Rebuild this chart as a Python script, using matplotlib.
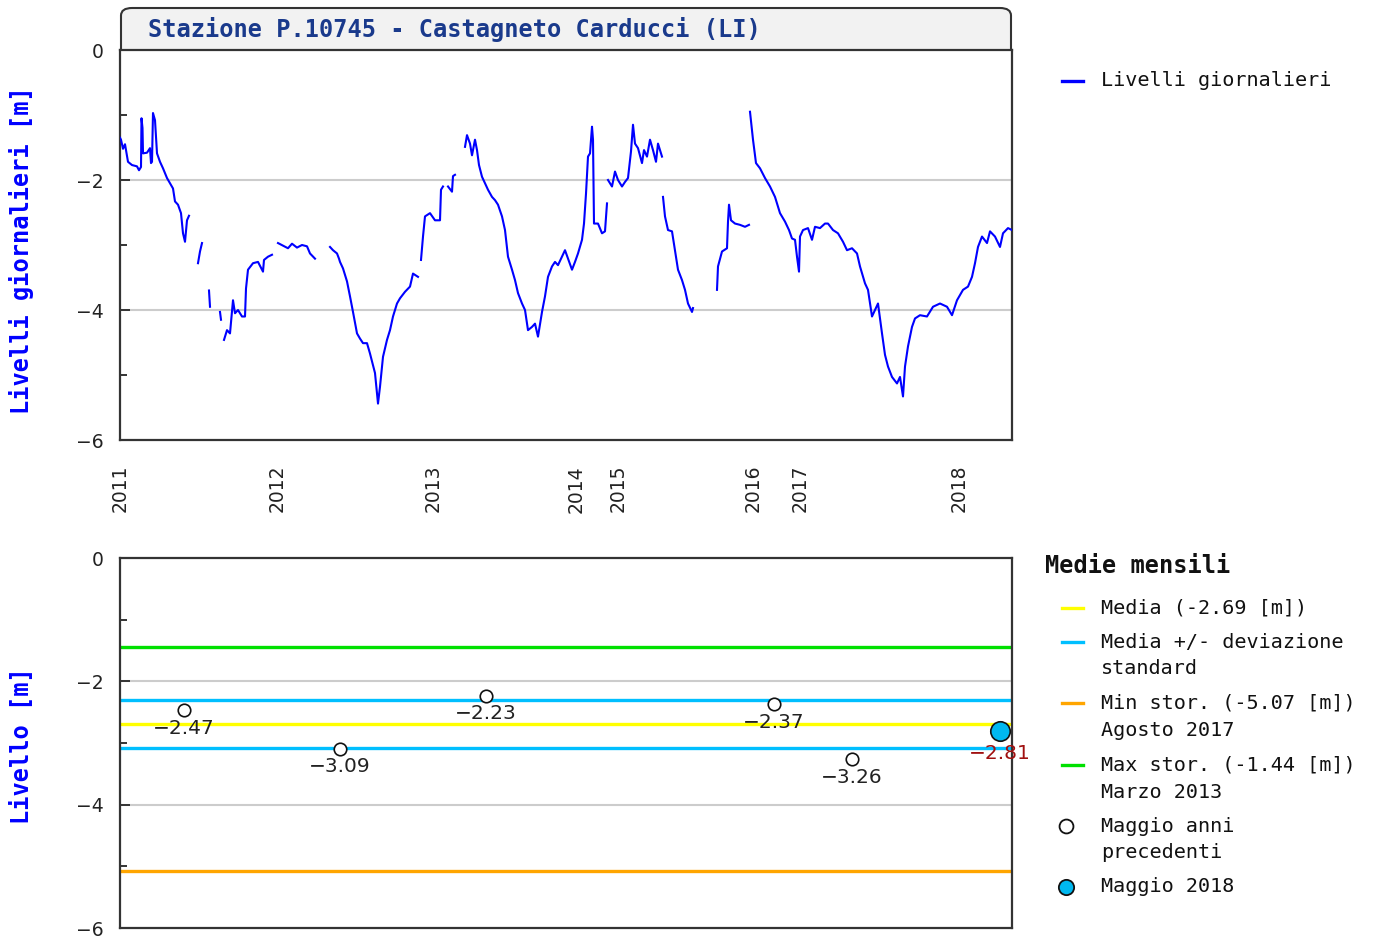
import numpy as np
import matplotlib
matplotlib.use("Agg")
import matplotlib.pyplot as plt
from matplotlib.lines import Line2D
from matplotlib.patches import FancyBboxPatch
from matplotlib.ticker import FixedLocator

nan = np.nan

# Daily groundwater levels [m] against record number; NaN marks missing stretches
rec_idx = [
    0, 1, 3, 5, 8, 12, 17, 19, 21, 21.5, 22.5, 23, 27, 30, 31, 32, 33, 35, 37, 40, 43, 47, 50, 53, 55, 58, 61, 63, 65, 67, 69, nan,
    78, 80, 82, nan,
    89, 90, nan,
    100, 101, nan,
    104, 107, 110, 113, 115, 118, 122, 125, 126, 128, 133, 138, 143, 144, 148, 152, nan,
    158, 163, 168, 172, 177, 182, 187, 190, 195, nan,
    210, 213, 217, 219, 220, 223, 227, 230, 233, 237, 240, 243, 247, 250, 252, 255, 258, 260, 263, 267, 270, 273, 277, 280, 285, 290, 293, 298, nan,
    301, 303, 305, 310, 315, 320, 321, 323, nan,
    328, 332, 333, 335, nan,
    345, 347, 350, 352, 355, 357, 359, 362, 365, 368, 372, 375, 378, 382, 385, 388, 392, 395, 398, 402,
    405, 408, 412, 415, 418, 422, 425, 428, 432, 435, 438, 442, 445, 448, 452, 455, 458, 462, 464, 466,
    468, 470, 472, 473, 474, 478, 482, 485, 487, nan,
    488, 492, 495, 498, 502, 505, 508, 511, 513, 515, 518, 522, 524, 527, 530, 533, 536, 538, 542, nan,
    543, 545, 548, 552, 555, 558, 562, 565, 568, 572, 573, nan,
    597, 598, 602, 607, 608, 609, 611, 615, 620, 625, 629, nan,
    630, 633, 636, 640, 645, 650, 655, 660, 665, 669, 672, 675, 677, 679, 680, 683, 688, 692, 695, 700,
    705, 708, 713, 718, 723, 727, 732, 737, 740, 745, 748, 752, 755, 758, 762, 765, 768, 772, 777, 780,
    783, 785, 788, 792, 795, 800, 807, 813, 820, 827, 832, 837, 843, 848, 852, 855, 858, 862, 867, 870,
    875, 880, 883, 888, 892,
]
livelli = [
    -1.35, -1.38, -1.52, -1.45, -1.72, -1.77, -1.79, -1.85, -1.80, -1.05, -1.20, -1.59, -1.58, -1.51, -1.74, -1.72, -0.97, -1.08, -1.59, -1.72, -1.82, -1.97, -2.05, -2.13, -2.33, -2.38, -2.51, -2.82, -2.95, -2.62, -2.55, nan,
    -3.28, -3.10, -2.97, nan,
    -3.70, -3.95, nan,
    -4.03, -4.15, nan,
    -4.46, -4.31, -4.36, -3.85, -4.05, -4.00, -4.10, -4.10, -3.67, -3.38, -3.28, -3.26, -3.41, -3.23, -3.18, -3.15, nan,
    -2.97, -3.01, -3.05, -2.98, -3.04, -3.00, -3.02, -3.13, -3.21, nan,
    -3.03, -3.08, -3.13, -3.21, -3.26, -3.36, -3.56, -3.79, -4.03, -4.36, -4.44, -4.51, -4.51, -4.67, -4.79, -4.97, -5.44, -5.18, -4.72, -4.46, -4.31, -4.10, -3.90, -3.82, -3.72, -3.64, -3.44, -3.49, nan,
    -3.23, -2.87, -2.56, -2.51, -2.62, -2.62, -2.15, -2.10, nan,
    -2.10, -2.18, -1.94, -1.92, nan,
    -1.49, -1.31, -1.44, -1.62, -1.38, -1.54, -1.77, -1.95, -2.05, -2.15, -2.26, -2.31, -2.38, -2.56, -2.77, -3.18, -3.38, -3.54, -3.74, -3.90,
    -4.00, -4.31, -4.26, -4.21, -4.41, -4.03, -3.79, -3.49, -3.33, -3.26, -3.31, -3.18, -3.08, -3.21, -3.38, -3.26, -3.13, -2.92, -2.67, -2.21,
    -1.64, -1.59, -1.18, -1.38, -2.67, -2.67, -2.82, -2.79, -2.36, nan,
    -2.00, -2.10, -1.87, -2.00, -2.10, -2.03, -1.97, -1.56, -1.15, -1.44, -1.51, -1.74, -1.54, -1.64, -1.38, -1.54, -1.72, -1.44, -1.64, nan,
    -2.26, -2.56, -2.77, -2.79, -3.08, -3.38, -3.54, -3.69, -3.90, -4.03, -3.97, nan,
    -3.69, -3.33, -3.10, -3.05, -2.64, -2.38, -2.62, -2.67, -2.69, -2.72, -2.69, nan,
    -0.95, -1.38, -1.74, -1.82, -1.97, -2.10, -2.26, -2.51, -2.64, -2.77, -2.90, -2.92, -3.18, -3.41, -2.87, -2.77, -2.74, -2.92, -2.72, -2.74,
    -2.67, -2.67, -2.77, -2.82, -2.95, -3.08, -3.05, -3.13, -3.33, -3.59, -3.69, -4.10, -4.00, -3.90, -4.36, -4.69, -4.87, -5.03, -5.13, -5.03,
    -5.33, -4.87, -4.56, -4.26, -4.13, -4.08, -4.10, -3.95, -3.90, -3.95, -4.08, -3.85, -3.69, -3.64, -3.49, -3.28, -3.03, -2.87, -2.97, -2.79,
    -2.87, -3.03, -2.82, -2.74, -2.77,
]

# First record of each year
year_labels = ["2011", "2012", "2013", "2014", "2015", "2016", "2017", "2018"]
year_pos = [0, 157, 313, 456, 498, 633, 680, 839]
n_records = 892

# Monthly means for May
may_pos = [64, 220, 366, 654, 732]
may_vals = [-2.47, -3.09, -2.23, -2.37, -3.26]
may_cur_pos = 880
may_cur_val = -2.81
media = -2.69
dev_std = 0.39
min_stor = -5.07
max_stor = -1.44

W, H = 1381, 942
fig = plt.figure(figsize=(W / 100, H / 100), dpi=100)
fig.patch.set_facecolor("white")


def fx(px):
    return px / W


def fy(py):
    return 1 - py / H


MONO = "DejaVu Sans Mono"
SPINE = "#333333"
TITLE_BLUE = "#1a3a8c"


def style_axes(ax):
    for s in ax.spines.values():
        s.set_color(SPINE)
        s.set_linewidth(1.6)
    ax.set_ylim(-6, 0)
    ax.set_xlim(0, n_records)
    ax.yaxis.set_major_locator(FixedLocator([0, -2, -4, -6]))
    ax.yaxis.set_minor_locator(FixedLocator([-1, -3, -5]))
    ax.tick_params(axis="y", which="major", direction="in", length=7, width=1.4,
                   color=SPINE, labelsize=13.5, labelcolor="#222222", pad=12)
    ax.tick_params(axis="y", which="minor", direction="in", length=5, width=1.4, color=SPINE)
    ax.set_yticklabels(["0", "\u22122", "\u22124", "\u22126"])
    for v in (-2, -4):
        ax.axhline(v, color="#cccccc", lw=1.5, zorder=0.5)


# Title bar above the daily chart
box = FancyBboxPatch((fx(121), fy(70)), fx(1011) - fx(121), fy(8) - fy(70),
                     boxstyle="round,pad=0,rounding_size=0.008",
                     transform=fig.transFigure, facecolor="#f2f2f2",
                     edgecolor=SPINE, lw=1.5, zorder=-1)
fig.add_artist(box)
fig.text(fx(148), fy(30), "Stazione P.10745 - Castagneto Carducci (LI)",
         family=MONO, weight="bold", fontsize=17, color=TITLE_BLUE,
         ha="left", va="center")

# Daily levels
ax1 = fig.add_axes([fx(120), fy(440), fx(1012) - fx(120), fy(50) - fy(440)])
ax1.set_facecolor("white")
style_axes(ax1)
ax1.plot(rec_idx, livelli, color="#0000ff", lw=1.5, zorder=3)
ax1.set_xticks(year_pos)
ax1.set_xticklabels(year_labels, rotation=90, fontsize=13.5, color="#222222")
ax1.tick_params(axis="x", length=0, pad=18)
for lab in ax1.get_xticklabels():
    lab.set_va("top")

fig.text(fx(22), fy(250), "Livelli giornalieri [m]", rotation=90, family=MONO,
         weight="bold", fontsize=17, color="#0000ff", ha="center", va="center")

fig.add_artist(Line2D([fx(1062), fx(1083)], [fy(81), fy(81)], color="#0000ff",
                      lw=2.4, transform=fig.transFigure))
fig.text(fx(1101), fy(81), "Livelli giornalieri", family=MONO, fontsize=14.5,
         color="#111111", ha="left", va="center")

# Monthly means
ax2 = fig.add_axes([fx(120), fy(928), fx(1012) - fx(120), fy(558) - fy(928)])
style_axes(ax2)
ax2.set_xticks([])
ax2.axhline(max_stor, color="#00e000", lw=2.4, zorder=1)
ax2.axhline(media + dev_std, color="#00bfff", lw=2.4, zorder=1)
ax2.axhline(media, color="#ffff00", lw=2.4, zorder=1)
ax2.axhline(media - dev_std, color="#00bfff", lw=2.4, zorder=1)
ax2.axhline(min_stor, color="#ffa500", lw=2.4, zorder=1)

ax2.plot(may_pos, may_vals, linestyle="none", marker="o", markersize=9,
         markerfacecolor="white", markeredgecolor="#111111", markeredgewidth=1.2, zorder=4)
for xp, v in zip(may_pos, may_vals):
    ax2.annotate(f"\u2212{abs(v):.2f}", (xp, v), xytext=(0, -13), textcoords="offset points",
                 ha="center", va="center", fontsize=14.5, color="#222222", zorder=5)

ax2.plot([may_cur_pos], [may_cur_val], linestyle="none", marker="o", markersize=14,
         markerfacecolor="#00b8f0", markeredgecolor="#111111", markeredgewidth=1.2,
         zorder=4, clip_on=False)
ax2.annotate(f"\u2212{abs(may_cur_val):.2f}", (may_cur_pos, may_cur_val), xytext=(0, -16),
             textcoords="offset points", ha="center", va="center", fontsize=14.5,
             color="#a01010", zorder=5, annotation_clip=False)

fig.text(fx(22), fy(746), "Livello [m]", rotation=90, family=MONO,
         weight="bold", fontsize=17, color="#0000ff", ha="center", va="center")

# Legend for the monthly means
fig.text(fx(1045), fy(566), "Medie mensili", family=MONO, weight="bold",
         fontsize=17, color="#111111", ha="left", va="center")
entries = [
    ("#ffff00", "line", ["Media (-2.69 [m])"], 608),
    ("#00bfff", "line", ["Media +/- deviazione", "standard"], 642),
    ("#ffa500", "line", ["Min stor. (-5.07 [m])", "Agosto 2017"], 703),
    ("#00e000", "line", ["Max stor. (-1.44 [m])", "Marzo 2013"], 765),
    ("white", "open", ["Maggio anni", "precedenti"], 826),
    ("#00b8f0", "filled", ["Maggio 2018"], 887),
]
for col, kind, lines, ypix in entries:
    if kind == "line":
        fig.add_artist(Line2D([fx(1062), fx(1083)], [fy(ypix), fy(ypix)], color=col,
                              lw=2.4, transform=fig.transFigure))
    elif kind == "open":
        fig.add_artist(Line2D([fx(1066)], [fy(ypix)], marker="o", markersize=10,
                              markerfacecolor="white", markeredgecolor="#111111",
                              markeredgewidth=1.3, transform=fig.transFigure))
    else:
        fig.add_artist(Line2D([fx(1066)], [fy(ypix)], marker="o", markersize=11,
                              markerfacecolor=col, markeredgecolor="#111111",
                              markeredgewidth=1.3, transform=fig.transFigure))
    for k, t in enumerate(lines):
        fig.text(fx(1101), fy(ypix + 27 * k), t, family=MONO, fontsize=14.5,
                 color="#111111", ha="left", va="center")

fig.savefig("out.png", dpi=100, facecolor="white")
